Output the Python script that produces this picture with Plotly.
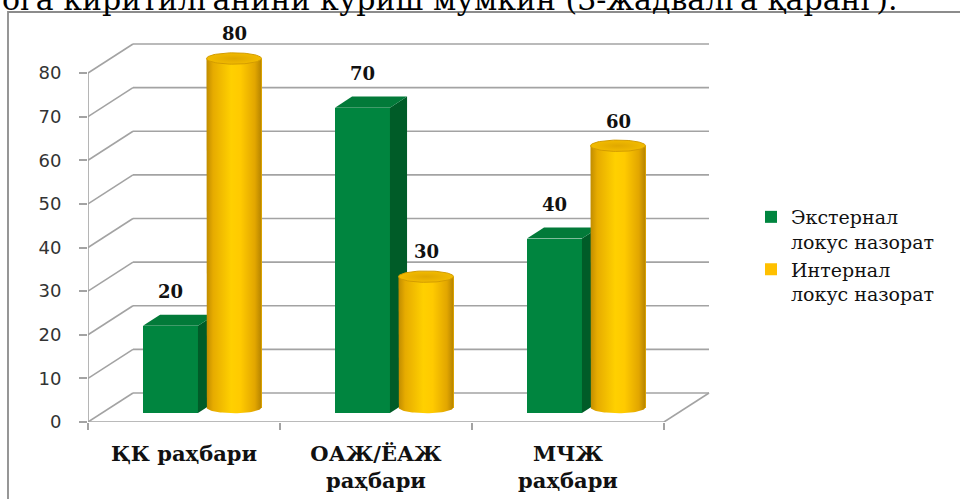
import numpy as np
import plotly.graph_objects as go

# ---------------- data ----------------
categories = ["ҚК раҳбари", "ОАЖ/ЁАЖ<br>раҳбари", "МЧЖ<br>раҳбари"]
external_locus = [20, 70, 40]
internal_locus = [80, 30, 60]
series_names = ["Экстернал<br>локус назорат", "Интернал<br>локус назорат"]
y_ticks = [0, 10, 20, 30, 40, 50, 60, 70, 80]
caption = "ога киритилганини кўриш мумкин (3-жадвалга қаранг)."

# ---------------- pseudo-3D geometry (axis units) ----------------
DX = 45 / 192          # depth offset along x
DY = 29 / 4.3625       # depth offset along y
F0, F1 = 0.31, 0.69    # front/back depth fractions of bars
W = 55 / 192           # bar width
R = W / 2              # cylinder radius
RY = 1.3               # cylinder ellipse vertical semi-axis

GREEN = "#00853f"
GREEN_SIDE = "#005c28"
GREEN_TOP = "#027a39"
YELLOW = "#ffc000"
GRID = "#a3a3a3"
SERIF = "DejaVu Serif"

xs = list(range(len(categories)))
fig = go.Figure()

# legend/front faces via bar traces
fig.add_trace(go.Bar(x=xs, y=external_locus, base=F0 * DY, width=W,
                     offset=-W + F0 * DX, marker=dict(color=GREEN, line=dict(width=0)),
                     name=series_names[0], hoverinfo="skip"))
fig.add_trace(go.Bar(x=xs, y=internal_locus, base=0.5 * DY, width=W,
                     offset=0.5 * DX, marker=dict(color=YELLOW, line=dict(width=0)),
                     name=series_names[1], hoverinfo="skip"))

theta_bot = np.linspace(np.pi, 2 * np.pi, 40)
theta_full = np.linspace(0, 2 * np.pi, 80)

annotations = []
for i, (ev, iv) in enumerate(zip(external_locus, internal_locus)):
    # green box: side & top faces
    xl = i - W + F0 * DX
    xr = i + F0 * DX
    yb = F0 * DY
    yt = ev + F0 * DY
    ddx = (F1 - F0) * DX
    ddy = (F1 - F0) * DY
    fig.add_trace(go.Scatter(x=[xr, xr, xr + ddx, xr + ddx, xr], y=[yb, yt, yt + ddy, yb + ddy, yb],
                             fill="toself", fillcolor=GREEN_SIDE, mode="lines",
                             line=dict(width=0), showlegend=False, hoverinfo="skip"))
    fig.add_trace(go.Scatter(x=[xl, xr, xr + ddx, xl + ddx, xl], y=[yt, yt, yt + ddy, yt + ddy, yt],
                             fill="toself", fillcolor=GREEN_TOP, mode="lines",
                             line=dict(width=0), showlegend=False, hoverinfo="skip"))
    annotations.append(dict(x=(xl + xr) / 2, y=yt + ddy, xref="x", yref="y", text=f"<b>{ev}</b>",
                            showarrow=False, yanchor="middle", yshift=23,
                            font=dict(family=SERIF, size=18, color="#111")))

    # yellow cylinder: body with gradient + top ellipse
    cx = i + W / 2 + 0.5 * DX
    vb = 0.5 * DY
    vt = iv + 0.5 * DY
    bx = [cx - R, cx - R] + list(cx + R * np.cos(theta_bot)) + [cx + R, cx - R]
    by = [vt, vb] + list(vb + RY * np.sin(theta_bot)) + [vt, vt]
    fig.add_trace(go.Scatter(x=bx, y=by, fill="toself", mode="lines", line=dict(width=0),
                             fillgradient=dict(type="horizontal",
                                               colorscale=[[0, "#c08c00"], [0.12, "#e6ab00"],
                                                           [0.45, "#ffd000"], [0.62, "#ffca00"],
                                                           [0.88, "#e2a600"], [1, "#b58300"]]),
                             showlegend=False, hoverinfo="skip"))
    fig.add_trace(go.Scatter(x=list(cx + R * np.cos(theta_full)), y=list(vt + RY * np.sin(theta_full)),
                             fill="toself", mode="lines", line=dict(width=1, color="#d39c00"),
                             fillgradient=dict(type="radial",
                                               colorscale=[[0, "#e0a800"], [1, "#f2bb00"]]),
                             showlegend=False, hoverinfo="skip"))
    annotations.append(dict(x=cx, y=vt + RY, xref="x", yref="y", text=f"<b>{iv}</b>",
                            showarrow=False, yanchor="middle", yshift=19,
                            font=dict(family=SERIF, size=18, color="#111")))

# ---------------- walls / grid as shapes below traces ----------------
x_left, x_right = -0.5, len(categories) - 0.5
shapes = []
line_style = dict(color=GRID, width=1.6)
for v in y_ticks:
    shapes.append(dict(type="line", xref="x", yref="y", layer="below",
                       x0=x_left + DX, y0=v + DY, x1=x_right + DX, y1=v + DY, line=line_style))
    shapes.append(dict(type="line", xref="x", yref="y", layer="below",
                       x0=x_left, y0=v, x1=x_left + DX, y1=v + DY, line=line_style))
shapes.append(dict(type="line", xref="x", yref="y", layer="below",
                   x0=x_left, y0=0, x1=x_right, y1=0, line=line_style))
shapes.append(dict(type="line", xref="x", yref="y", layer="below",
                   x0=x_right, y0=0, x1=x_right + DX, y1=DY, line=line_style))
shapes.append(dict(type="line", xref="x", yref="y", layer="below",
                   x0=x_left, y0=0, x1=x_left, y1=y_ticks[-1], line=line_style))
# outer frame of the embedded chart (left and top edges visible)
shapes.append(dict(type="rect", xref="paper", yref="paper", layer="below",
                   x0=(8 - 88) / 624, x1=(975 - 88) / 624, y0=-0.3, y1=(422 - 12) / 409,
                   line=dict(color="#8c8c8c", width=1.8), fillcolor="rgba(0,0,0,0)"))

annotations.append(dict(x=(0 - 88) / 624, y=(422 - 19) / 409, xref="paper", yref="paper",
                        xanchor="left", yanchor="bottom", text=caption, showarrow=False,
                        font=dict(family=SERIF, size=30, color="#000")))

fig.update_layout(
    width=960, height=499, autosize=False,
    margin=dict(l=88, r=248, t=13, b=77, autoexpand=False),
    paper_bgcolor="white", plot_bgcolor="white",
    font=dict(family=SERIF),
    barmode="overlay", bargap=0,
    shapes=shapes, annotations=annotations,
    xaxis=dict(range=[-0.5, 2.75], tickvals=xs, ticktext=[f"<b>{c}</b>" for c in categories],
               ticks="", showgrid=False, zeroline=False, showline=False, automargin=False,
               tickfont=dict(family=SERIF, size=21, color="#111"), ticklabelstandoff=17,
               minor=dict(tickvals=[x_left + k for k in range(len(categories) + 1)], ticks="outside",
                          ticklen=7, tickwidth=1.5, tickcolor=GRID, showgrid=False)),
    yaxis=dict(range=[0, 409 / 4.3625], tickvals=y_ticks, ticks="outside", ticklen=8,
               tickwidth=1.5, tickcolor=GRID, showgrid=False, zeroline=False, showline=False,
               automargin=False,
               tickfont=dict(family="DejaVu Sans", size=18, color="#333"),
               ticklabelstandoff=14),
    legend=dict(x=(751 - 88) / 624, y=(422 - 198) / 409, xanchor="left", yanchor="top",
                valign="top", font=dict(family=SERIF, size=19, color="#111"),
                bgcolor="rgba(0,0,0,0)", itemwidth=30, tracegroupgap=8),
    showlegend=True,
)

fig.write_html("out.html")
